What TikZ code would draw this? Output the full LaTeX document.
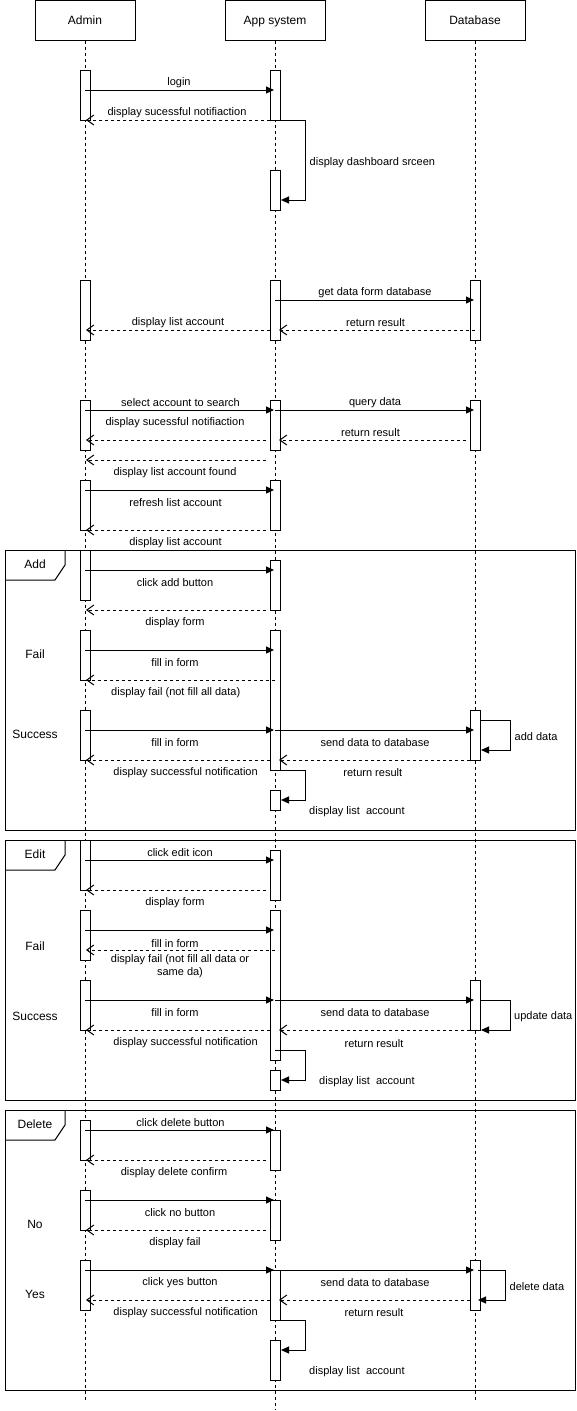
\documentclass[tikz,border=0pt]{standalone}
\usepackage{fontspec}
\setmainfont{Liberation Sans}
\usetikzlibrary{arrows.meta}

\tikzset{
  head/.style={draw, line width=1pt, minimum width=100pt, minimum height=40pt,
    inner sep=0pt, text height=8.6pt, text depth=0pt,
    font=\fontsize{12}{14}\selectfont},
  lifeline/.style={line width=1pt, dash pattern=on 3pt off 3pt},
  actbox/.style={draw, fill=white, line width=1pt, minimum width=10pt,
    inner sep=0pt, anchor=north},
  sync/.style={line width=1pt, -{Triangle[length=8pt,width=7pt]}},
  reply/.style={line width=1pt, dash pattern=on 3pt off 3pt,
    -{Straight Barb[length=7pt,width=10pt]}},
  lbl/.style={font=\fontsize{11}{13}\selectfont, inner sep=0pt, yshift=-1.8pt},
  guard/.style={font=\fontsize{12}{14}\selectfont, inner sep=0pt, yshift=-1.8pt},
  tag/.style={font=\fontsize{12}{14}\selectfont, inner sep=0pt,
    text height=8.6pt, text depth=0pt},
  framebox/.style={draw, line width=1pt, inner sep=0pt, anchor=north west,
    minimum width=570pt},
  tabline/.style={line width=1pt},
}

% activation bar: name, x, top, height
\newcommand{\actbar}[4]{\node[actbox, minimum height=#4pt] (#1) at (#2,#3) {};}
% synchronous call: name, y, x from, x to
\newcommand{\sendmsg}[4]{%
  \coordinate (#1s) at (#3,#2); \coordinate (#1e) at (#4,#2);
  \draw[sync] (#1s) -- (#1e);}
% dashed return: name, y, x from, x to
\newcommand{\backmsg}[4]{%
  \coordinate (#1s) at (#3,#2); \coordinate (#1e) at (#4,#2);
  \draw[reply] (#1s) -- (#1e);}
% self call: name, x start, y start, x right, y end, x tip
\newcommand{\selfmsg}[6]{%
  \coordinate (#1a) at (#2,#3); \coordinate (#1b) at (#4,#3);
  \coordinate (#1c) at (#4,#5); \coordinate (#1d) at (#6,#5);
  \draw[sync] (#1a) -- (#1b) -- (#1c) -- (#1d);}
% combined fragment: name, top, height, label
\newcommand{\umlframe}[4]{%
  \node[framebox, minimum height=#3pt] (#1) at (5,#2) {};
  \draw[tabline] (5,#2+30) -- (55,#2+30) -- (65,#2+15) -- (65,#2);
  \node[tag] (#1tag) at (35,#2+14.5) {#4};}

\begin{document}
\begin{tikzpicture}[x=1pt,y=-1pt]
\useasboundingbox (0,0) rectangle (576,1411);

% participants
\node[head] (admin) at (85,20) {Admin};
\node[head] (app) at (275,20) {App system};
\node[head] (db) at (475,20) {Database};

\coordinate (adminend) at (85,1400);
\coordinate (append) at (275,1410);
\coordinate (dbend) at (475,1400);
\draw[lifeline] (admin.south) -- (adminend);
\draw[lifeline] (app.south) -- (append);
\draw[lifeline] (db.south) -- (dbend);

% combined fragments
\umlframe{addfr}{550}{280}{Add}
\umlframe{editfr}{840}{260}{Edit}
\umlframe{delfr}{1110}{280}{Delete}

% activation bars of Admin
\actbar{a1}{85}{70}{50}
\actbar{a2}{85}{280}{60}
\actbar{a3}{85}{400}{50}
\actbar{a4}{85}{480}{50}
\actbar{a5}{85}{550}{50}
\actbar{a6}{85}{630}{50}
\actbar{a7}{85}{710}{50}
\actbar{a8}{85}{840}{50}
\actbar{a9}{85}{910}{50}
\actbar{a10}{85}{980}{50}
\actbar{a11}{85}{1120}{40}
\actbar{a12}{85}{1190}{40}
\actbar{a13}{85}{1260}{50}

% activation bars of App system
\actbar{p1}{275}{70}{50}
\actbar{p2}{275}{170}{40}
\actbar{p3}{275}{280}{60}
\actbar{p4}{275}{400}{50}
\actbar{p5}{275}{480}{50}
\actbar{p6}{275}{560}{50}
\actbar{p7}{275}{630}{140}
\actbar{p8}{275}{790}{20}
\actbar{p9}{275}{850}{50}
\actbar{p10}{275}{910}{150}
\actbar{p11}{275}{1070}{20}
\actbar{p12}{275}{1130}{40}
\actbar{p13}{275}{1200}{40}
\actbar{p14}{275}{1270}{50}
\actbar{p15}{275}{1340}{40}

% activation bars of Database
\actbar{d1}{475}{280}{60}
\actbar{d2}{475}{400}{50}
\actbar{d3}{475}{710}{50}
\actbar{d4}{475}{980}{50}
\actbar{d5}{475}{1260}{50}

% login
\sendmsg{m1}{90}{85}{274}
\backmsg{m2}{120}{270}{86}
\selfmsg{m3}{280}{120}{305.5}{200}{281}
\node[lbl] (t1) at (179,81) {login};
\node[lbl] (t2) at (177,111) {display sucessful notifiaction};
\node[lbl, anchor=west] (t3) at (309.5,161) {display dashboard srceen};

% list accounts
\sendmsg{m4}{300}{275}{474}
\backmsg{m5}{330}{475}{279}
\backmsg{m6}{330}{270}{86}
\node[lbl] (t4) at (375,291) {get data form database};
\node[lbl] (t5) at (375.5,321) {return result};
\node[lbl] (t6) at (178,321) {display list account};

% search
\sendmsg{m7}{410}{85}{274}
\sendmsg{m8}{410}{275}{474}
\backmsg{m9}{440}{466}{279}
\backmsg{m10}{440}{266}{86}
\backmsg{m11}{460}{266}{86}
\node[lbl] (t7) at (180.5,401) {select account to search};
\node[lbl] (t8) at (375,401) {query data};
\node[lbl] (t9) at (175,421) {display sucessful notifiaction};
\node[lbl] (t10) at (370.5,431) {return result};
\node[lbl] (t11) at (175,471) {display list account found};

% refresh
\sendmsg{m12}{490}{85}{274}
\backmsg{m13}{530}{266}{86}
\node[lbl] (t12) at (175.5,501) {refresh list account};
\node[lbl] (t13) at (175.5,541) {display list account};

% add
\sendmsg{m14}{570}{85}{274}
\backmsg{m15}{610}{266}{86}
\node[lbl] (t14) at (175,581) {click add button};
\node[lbl] (t15) at (175,621) {display form};
\node[guard] (g1) at (35,652.7) {Fail};
\sendmsg{m16}{650}{85}{274}
\backmsg{m17}{680}{275}{86}
\node[lbl] (t16) at (175,661) {fill in form};
\node[lbl] (t17) at (175.7,691) {display fail (not fill all data)};
\node[guard] (g2) at (35,732.7) {Success};
\sendmsg{m18}{730}{85}{274}
\sendmsg{m19}{730}{275}{474}
\selfmsg{m20}{480}{720}{510.5}{750}{481}
\backmsg{m21}{760}{470}{279}
\backmsg{m22}{760}{270}{86}
\selfmsg{m23}{280}{770}{305.5}{800}{281}
\node[lbl] (t18) at (175,741) {fill in form};
\node[lbl] (t19) at (375,741) {send data to database};
\node[lbl, anchor=west] (t20) at (514.5,735) {add data};
\node[lbl] (t21) at (372.8,771) {return result};
\node[lbl] (t22) at (185.6,771) {display successful notification};
\node[lbl, anchor=west] (t23) at (309,810) {display list\ \ account};

% edit
\sendmsg{m24}{860}{85}{274}
\backmsg{m25}{890}{266}{86}
\node[lbl] (t24) at (180,850.7) {click edit icon};
\node[lbl] (t25) at (175,901.3) {display form};
\node[guard] (g3) at (35,944.7) {Fail};
\sendmsg{m26}{930}{85}{274}
\backmsg{m27}{950}{275}{86}
\node[lbl] (t26) at (175,941.3) {fill in form};
\node[lbl, align=center] (t27) at (180,964.5) {display fail (not fill all data or\\same da)};
\node[guard] (g4) at (35,1015) {Success};
\sendmsg{m28}{1000}{85}{274}
\sendmsg{m29}{1000}{275}{474}
\selfmsg{m30}{480}{1000}{510.5}{1030}{481}
\backmsg{m31}{1030}{470}{279}
\backmsg{m32}{1030}{270}{86}
\selfmsg{m33}{275}{1050}{305.5}{1080}{281}
\node[lbl] (t28) at (175,1010.7) {fill in form};
\node[lbl] (t29) at (375,1010.7) {send data to database};
\node[lbl, anchor=west] (t30) at (514,1015.3) {update data};
\node[lbl] (t31) at (374,1041.3) {return result};
\node[lbl] (t32) at (185.6,1041) {display successful notification};
\node[lbl, anchor=west] (t33) at (319,1080.3) {display list\ \ account};

% delete
\sendmsg{m34}{1130}{85}{274}
\backmsg{m35}{1160}{266}{86}
\node[lbl] (t34) at (180.5,1121) {click delete button};
\node[lbl] (t35) at (174,1171) {display delete confirm};
\node[guard] (g5) at (35,1222.7) {No};
\sendmsg{m36}{1200}{85}{274}
\backmsg{m37}{1230}{266}{86}
\node[lbl] (t36) at (180,1211) {click no button};
\node[lbl] (t37) at (175,1241) {display fail};
\node[guard] (g6) at (35,1292.3) {Yes};
\sendmsg{m38}{1270}{85}{274}
\sendmsg{m39}{1270}{275}{474}
\selfmsg{m40}{478}{1270}{505.5}{1300}{478}
\backmsg{m41}{1300}{470}{279}
\backmsg{m42}{1300}{270}{86}
\selfmsg{m43}{280}{1320}{305.5}{1350}{281}
\node[lbl] (t38) at (180,1281) {click yes button};
\node[lbl] (t39) at (375,1281) {send data to database};
\node[lbl, anchor=west] (t40) at (509.5,1285) {delete data};
\node[lbl] (t41) at (374,1311) {return result};
\node[lbl] (t42) at (185.6,1311) {display successful notification};
\node[lbl, anchor=west] (t43) at (309,1370.3) {display list\ \ account};
\end{tikzpicture}
\end{document}
